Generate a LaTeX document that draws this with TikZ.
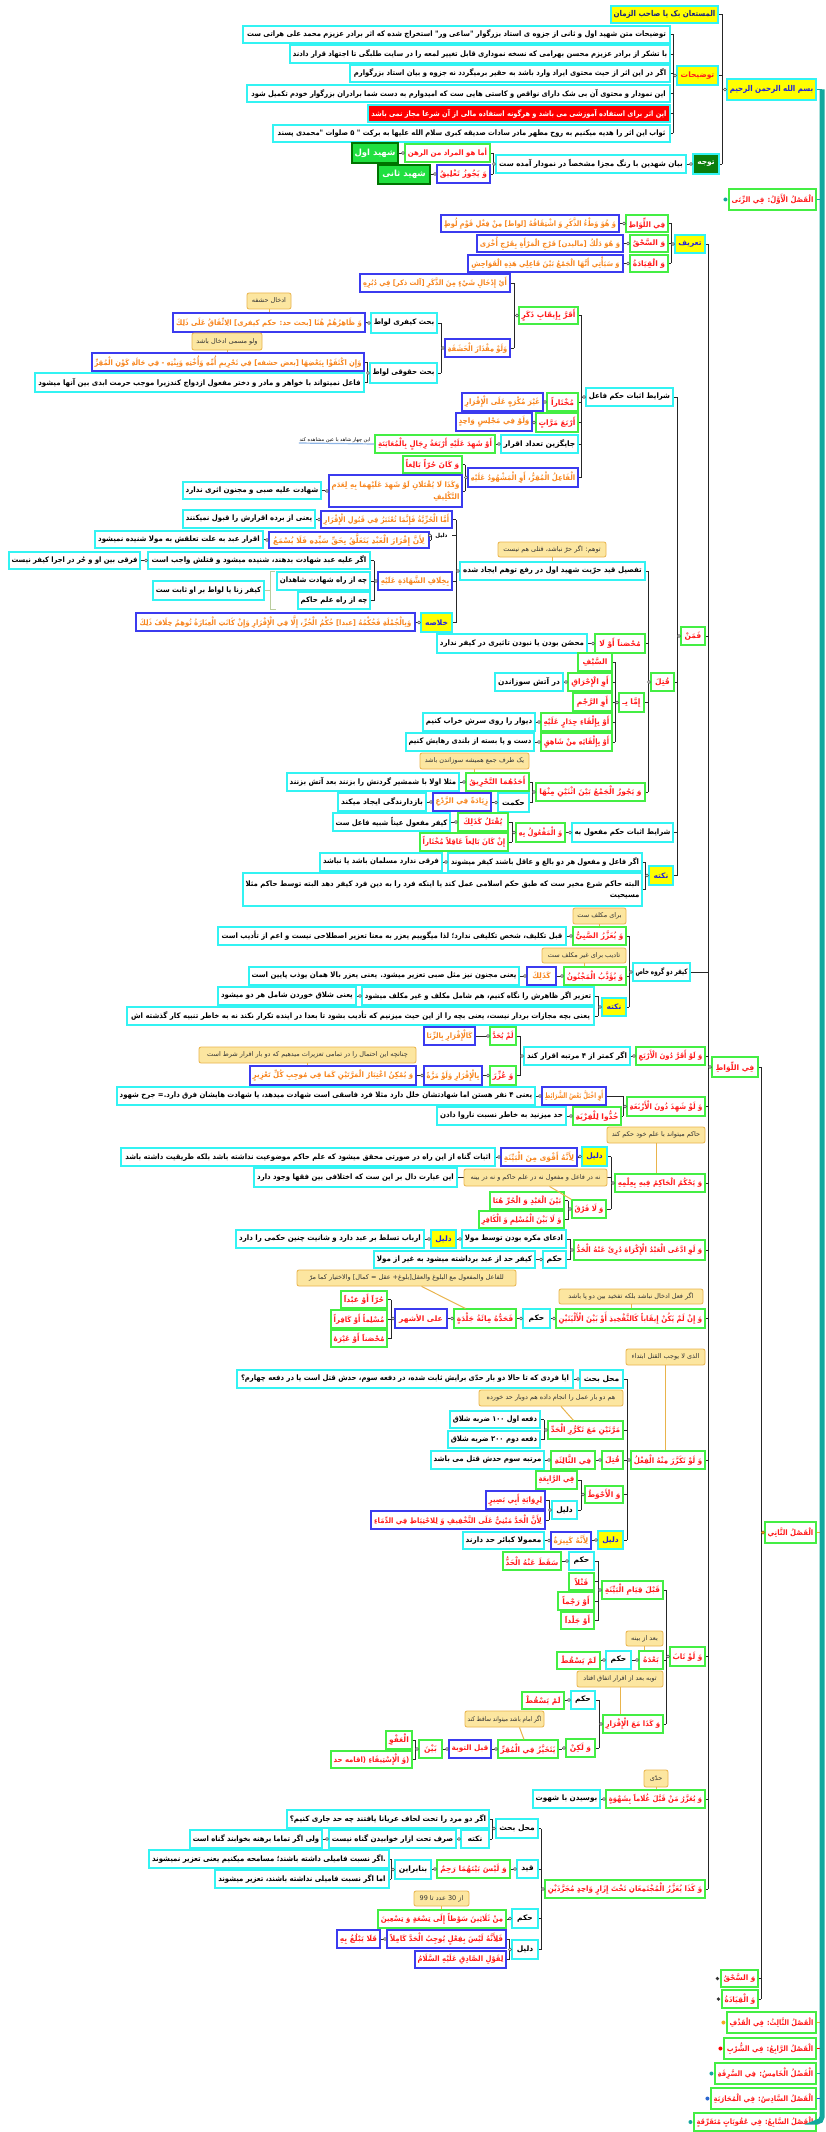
\documentclass[tikz,border=0pt]{standalone}
\usepackage{fontspec}
\usepackage{graphicx}
\newfontfamily\arabicfont[Script=Arabic]{DejaVu Sans}
\TeXXeTstate=1
\usetikzlibrary{calc}

\definecolor{cyanB}{HTML}{33F3F3}
\definecolor{greenB}{HTML}{44EE44}
\definecolor{blueB}{HTML}{3B3BEF}
\definecolor{redT}{HTML}{FF1A1A}
\definecolor{orangeT}{HTML}{F7851E}
\definecolor{blueT}{HTML}{2222DD}
\definecolor{navyT}{HTML}{1A237E}
\definecolor{yellowF}{HTML}{FFFF00}
\definecolor{noteF}{HTML}{FCE6A0}
\definecolor{noteB}{HTML}{E9B44C}
\definecolor{barC}{HTML}{12A89E}
\definecolor{dgreenF}{HTML}{0B7D0B}
\definecolor{sgreenF}{HTML}{20E040}
\definecolor{sumC}{HTML}{B9CC9C}
\definecolor{ulineC}{HTML}{8CB4E6}
\definecolor{chOrange}{HTML}{F5A623}

% Arabic-script font, bold and regular (each text carries its own \beginR ... \endR);
% \fitfeat narrows the font when a line is too long for its box
\newcommand\fitfeat{}
\newcommand\AR[1]{{\arabicfont\bfseries\fitfeat #1}}
\newcommand\ARr[1]{{\arabicfont\fitfeat #1}}
\newsavebox\fitbox
\newcommand\fitw[2]{%
  \def\fitfeat{}%
  \sbox\fitbox{#2}%
  \ifdim\wd\fitbox>#1\relax
    \pgfmathsetmacro\fitr{floor((#1)/(\wd\fitbox)*100)/100}%
    \edef\fitfeat{\noexpand\addfontfeatures{FakeStretch=\fitr}}%
  \fi
  \mbox{#2}}

\tikzset{
  basebox/.style={draw, line width=1.1pt, fill=white, inner sep=1pt, text=black,
    font=\fontsize{7.5}{11}\selectfont},
  cybox/.style={draw=cyanB},
  grbox/.style={draw=greenB, text=redT},
  blbox/.style={draw=blueB, text=orangeT},
  brbox/.style={draw=blueB, text=redT},
  ylbox/.style={draw=cyanB, fill=yellowF, text=blueT},
  redbox/.style={draw=cyanB, fill=red, text=white},
  dgbox/.style={draw=cyanB, fill=dgreenF, text=white},
  sgbox/.style={draw=green!45!black, fill=sgreenF, text=white, font=\fontsize{8.5}{11}\selectfont},
  lblbox/.style={draw=none, fill=none, font=\fontsize{5.5}{7}\selectfont},
  notebox/.style={draw=noteB, fill=noteF, line width=0.8pt, rounded corners=2pt, inner sep=1pt,
    text=black!80, font=\fontsize{6.5}{8}\selectfont},
  link/.style={draw=black!85, line width=0.6pt},
  knob/.style={draw=black!70, fill=white, line width=0.5pt},
  ptr/.style={draw=noteB, line width=1pt},
}

% box from x1 to x2 and y1 to y2 (pixels), one line of text
\newcommand\mnode[7][]{%
  \pgfmathsetmacro\nw{#4-#3}\pgfmathsetmacro\nh{#6-#5}\pgfmathsetmacro\tw{#4-#3-5}%
  \node[basebox,#1,minimum width=\nw pt,minimum height=\nh pt] (#2)
    at ({(#3+#4)/2},{(#5+#6)/2}) {\fitw{\tw pt}{\AR{#7}}};}
% box with two lines of text
\newcommand\mnodeII[8][]{%
  \pgfmathsetmacro\nw{#4-#3}\pgfmathsetmacro\nh{#6-#5}\pgfmathsetmacro\tw{#4-#3-5}%
  \node[basebox,#1,align=right,text width=\tw pt,minimum width=\nw pt,minimum height=\nh pt] (#2)
    at ({(#3+#4)/2},{(#5+#6)/2}) {\fitw{\tw pt}{\AR{#7}}\\\AR{#8}};}
% callout note
\newcommand\mnote[6]{%
  \pgfmathsetmacro\nw{#3-#2}\pgfmathsetmacro\nh{#5-#4}\pgfmathsetmacro\tw{#3-#2-5}%
  \node[notebox,minimum width=\nw pt,minimum height=\nh pt] (#1)
    at ({(#2+#3)/2},{(#4+#5)/2}) {\fitw{\tw pt}{\ARr{#6}}};}
% parent -> children through a vertical bracket at x = #2
\newcommand\kids[3]{%
  \coordinate (bk) at (#2,0);
  \foreach \kid in {#3}{%
    \draw[link] (#1.west) -- (#1.west -| bk);
    \draw[link] (#1.west -| bk) -- (\kid.east -| bk);
    \draw[link] (\kid.east -| bk) -- (\kid.east);}
  \filldraw[knob] ([xshift=-1.5pt]#1.west) circle (1.5pt);}

\begin{document}
\begin{tikzpicture}[x=1pt,y=-1pt]
\useasboundingbox (0,0) rectangle (826,2132);
\fill[white] (0,0) rectangle (826,2132);

% ---------- heading ----------
\mnode[ylbox,text=navyT,font=\fontsize{8}{11}\selectfont]{mst}{611}{718}{6}{23}{\beginR المستعان بک یا صاحب الزمان\endR}
\mnode[ylbox,font=\fontsize{8}{11}\selectfont]{bism}{727}{816}{79}{100}{\beginR بسم الله الرحمن الرحیم\endR}
\mnode[ylbox,text=redT]{tz}{677}{718}{66}{85}{\beginR توضیحات\endR}
\mnode[cybox]{e1}{243}{670}{26}{43}{\beginR توضیحات متن شهید اول و ثانی از جزوه ی استاد بزرگوار "ساعی ور" استخراج شده که اثر برادر عزیزم محمد علی هراتی ست\endR}
\mnode[cybox]{e2}{290}{670}{45}{63}{\beginR با تشکر از برادر عزیزم محسن بهرامی که نسخه نموداری قابل تغییر لمعه را در سایت طلبگی تا اجتهاد قرار دادند\endR}
\mnode[cybox]{e3}{350}{670}{65}{82}{\beginR اگر در این اثر از حیث محتوی ایراد وارد باشد به حقیر برمیگردد نه جزوه و بیان استاد بزرگوارم\endR}
\mnode[cybox]{e4}{247}{670}{85}{102}{\beginR این نمودار و محتوی آن بی شک دارای نواقص و کاستی هایی ست که امیدوارم به دست شما برادران بزرگوار خودم تکمیل شود\endR}
\mnode[redbox]{e5}{368}{670}{105}{122}{\beginR این اثر برای استفاده آموزشی می باشد و هرگونه استفاده مالی از آن شرعا مجاز نمی باشد\endR}
\mnode[cybox]{e6}{273}{670}{125}{142}{\beginR ثواب این اثر را هدیه میکنیم به روح مطهر مادر سادات صدیقه کبری سلام الله علیها به برکت " ۵ صلوات "محمدی پسند\endR}
\mnode[dgbox]{tav}{693}{719}{154}{174}{\beginR توجه\endR}
\mnode[cybox]{bay}{496}{686}{155}{173}{\beginR بیان شهدین با رنگ مجزا مشخصاً در نمودار آمده ست\endR}
\mnode[grbox]{ama}{405}{490}{144}{162}{\beginR أما هو المراد من الرهن\endR}
\mnode[sgbox]{sh1}{352}{398}{143}{163}{\beginR شهید اول\endR}
\mnode[brbox]{tal}{437}{490}{165}{183}{\beginR وَ يَجُوزُ تَعْلِيقُ\endR}
\mnode[sgbox]{sh2}{378}{430}{165}{184}{\beginR شهید ثانی\endR}

% ---------- chapters ----------
\mnode[grbox]{f1}{729}{816}{189}{210}{\beginR الْفَصْلُ الْأَوَّلُ: فِي الزِّنَى\endR}
\mnode[grbox]{f2}{765}{816}{1522}{1543}{\beginR الْفَصْلُ الثَّانِي\endR}
\mnode[grbox]{f3}{727}{816}{2012}{2033}{\beginR الْفَصْلُ الثَّالِثُ: فِي الْقَذْفِ\endR}
\mnode[grbox]{f4}{724}{816}{2038}{2059}{\beginR الْفَصْلُ الرَّابِعُ: فِي الشُّرْبِ\endR}
\mnode[grbox]{f5}{715}{816}{2063}{2084}{\beginR الْفَصْلُ الْخَامِسُ: فِي السَّرِقَةِ\endR}
\mnode[grbox]{f6}{711}{816}{2088}{2109}{\beginR الْفَصْلُ السَّادِسُ: فِي الْمُحَارَبَةِ\endR}
\mnode[grbox]{f7}{694}{816}{2113}{2131}{\beginR الْفَصْلُ السَّابِعُ: فِي عُقُوبَاتٍ مُتَفَرِّقَةٍ\endR}
\mnode[grbox]{fil}{712}{758}{1057}{1077}{\beginR فِي اللِّوَاطِ\endR}
\mnode[grbox]{shq3}{721}{758}{1970}{1987}{\beginR وَ السَّحْقُ\endR}
\mnode[grbox]{qyd3}{722}{758}{1990}{2008}{\beginR وَ الْقِيَادَةُ\endR}

% ---------- definitions ----------
\mnode[ylbox]{tarif}{675}{705}{235}{253}{\beginR تعریف\endR}
\mnode[grbox]{t1}{626}{668}{215}{232}{\beginR فِي اللِّوَاطِ\endR}
\mnode[blbox]{t1a}{441}{619}{215}{232}{\beginR وَ هُوَ وَطْءُ الذَّكَرِ وَ اشْتِقَاقُهُ [لواط] مِنْ فِعْلِ قَوْمِ لُوطٍ\endR}
\mnode[grbox]{t2}{630}{668}{235}{252}{\beginR وَ السَّحْقُ\endR}
\mnode[blbox]{t2a}{477}{623}{235}{252}{\beginR وَ هُوَ دَلْكُ [مالیدن] فَرْجِ الْمَرْأَةِ بِفَرْجِ أُخْرَى\endR}
\mnode[grbox]{t3}{630}{668}{255}{272}{\beginR وَ الْقِيَادَةُ\endR}
\mnode[blbox]{t3a}{468}{623}{255}{272}{\beginR وَ سَيَأْتِي أَنَّهَا الْجَمْعُ بَيْنَ فَاعِلِي هَذِهِ الْفَوَاحِشِ\endR}

% ---------- proof for the doer ----------
\mnode[blbox]{ay}{360}{510}{274}{292}{\beginR أَيْ إِدْخَالِ شَيْءٍ مِنَ الذَّكَرِ [آلت ذکر] فِي دُبُرِهِ\endR}
\mnode[grbox]{aqr}{519}{578}{307}{324}{\beginR أَقَرَّ بِإِيقَابِ ذَكَرٍ\endR}
\mnode[blbox]{hash}{445}{510}{339}{357}{\beginR وَلَوْ مِقْدَارَ الْحَشَفَةِ\endR}
\mnode[cybox]{kf}{371}{437}{313}{333}{\beginR بحث کیفری لواط\endR}
\mnode[blbox]{zah}{173}{365}{313}{332}{\beginR وَ ظَاهِرُهُمْ هُنَا [بحث حد: حکم کیفری] الِاتِّفَاقُ عَلَى ذَلِكَ\endR}
\mnode[cybox]{hq}{370}{437}{363}{383}{\beginR بحث حقوقی لواط\endR}
\mnode[blbox]{ikt}{92}{364}{353}{371}{\beginR وَإِنِ اكْتَفَوْا بِبَعْضِهَا [بعض حشفه] فِي تَحْرِيمِ أُمِّهِ وَأُخْتِهِ وَبِنْتِهِ - فِي حَالَةِ كَوْنِ الْمُقِرِّ\endR}
\mnode[cybox]{fail}{35}{364}{373}{392}{\beginR فاعل نمیتواند با خواهر و مادر و دختر مفعول ازدواج کندزیرا موجب حرمت ابدی بین آنها میشود\endR}
\mnode[cybox]{shf}{586}{673}{388}{406}{\beginR شرایط اثبات حکم فاعل\endR}
\mnode[grbox]{mkh}{547}{578}{393}{411}{\beginR مُخْتَاراً\endR}
\mnode[blbox]{ghm}{462}{543}{393}{411}{\beginR غَيْرَ مُكْرَهٍ عَلَى الْإِقْرَارِ\endR}
\mnode[grbox]{arb}{536}{578}{413}{432}{\beginR أَرْبَعَ مَرَّاتٍ\endR}
\mnode[blbox]{mjl}{456}{532}{413}{431}{\beginR وَلَوْ فِي مَجْلِسٍ وَاحِدٍ\endR}
\mnode[cybox]{jay}{501}{578}{435}{453}{\beginR جایگزین تعداد اقرار\endR}
\mnode[grbox]{shh}{375}{495}{435}{453}{\beginR أَوْ شَهِدَ عَلَيْهِ أَرْبَعَةُ رِجَالٍ بِالْمُعَايَنَةِ\endR}
\node[font=\fontsize{5}{6}\selectfont, inner sep=0.5pt, anchor=south east] (chs) at (371,443) {\ARr{\beginR این چهار شاهد با عین مشاهده کند\endR}};
\mnode[blbox]{fm}{468}{578}{468}{487}{\beginR الْفَاعِلُ الْمُقِرُّ، أَوِ الْمَشْهُودُ عَلَيْهِ\endR}
\mnode[grbox]{hur}{403}{462}{456}{473}{\beginR وَ كَانَ حُرّاً بَالِغاً\endR}
\mnodeII[blbox]{kdh}{329}{462}{475}{507}{\beginR وَكَذَا لَا يُقْتَلَانِ لَوْ شَهِدَ عَلَيْهِمَا بِهِ لِعَدَمِ\endR}{\beginR التَّكْلِيفِ\endR}
\mnode[cybox]{sab}{183}{321}{482}{499}{\beginR شهادت علیه صبی و مجنون اثری ندارد\endR}

% ---------- freedom condition ----------
\mnode[cybox]{tafs}{460}{645}{562}{580}{\beginR تفصیل قید حرّیت شهید اول در رفع توهم ایجاد شده\endR}
\mnode[blbox]{hur2}{321}{452}{511}{528}{\beginR أَمَّا الْحُرِّيَّةُ فَإِنَّمَا تُعْتَبَرُ فِي قَبُولِ الْإِقْرَارِ\endR}
\mnode[cybox]{bard}{183}{315}{510}{528}{\beginR یعنی از برده اقرارش را قبول نمیکنند\endR}
\mnode[lblbox]{dal0}{432}{451}{530}{541}{\beginR دلیل\endR}
\mnode[blbox]{lan}{269}{429}{532}{548}{\beginR لِأَنَّ إِقْرَارَ الْعَبْدِ يَتَعَلَّقُ بِحَقِّ سَيِّدِهِ فَلَا يُسْمَعُ\endR}
\mnode[cybox]{iqa}{95}{263}{531}{548}{\beginR اقرار عبد به علت تعلقش به مولا شنیده نمیشود\endR}
\mnode[blbox]{bkh}{378}{452}{572}{590}{\beginR بِخِلَافِ الشَّهَادَةِ عَلَيْهِ\endR}
\mnode[cybox]{agar}{148}{370}{552}{569}{\beginR اگر علیه عبد شهادت بدهند، شنیده میشود و قتلش واجب است\endR}
\mnode[cybox]{farq}{9}{140}{552}{569}{\beginR فرقی بین او و حُر در اجرا کیفر نیست\endR}
\mnode[cybox]{che1}{277}{370}{572}{590}{\beginR چه از راه شهادت شاهدان\endR}
\mnode[cybox]{che2}{298}{370}{592}{609}{\beginR چه از راه علم حاکم\endR}
\mnode[cybox]{kzn}{153}{264}{581}{600}{\beginR کیفر زنا یا لواط بر او ثابت ست\endR}
\mnode[ylbox]{khl}{421}{452}{613}{632}{\beginR خلاصه\endR}
\mnode[blbox]{bjm}{136}{415}{613}{631}{\beginR وَبِالْجُمْلَةِ فَحُكْمُهُ [عبدا] حُكْمُ الْحُرِّ، إِلَّا فِي الْإِقْرَارِ وَإِنْ كَانَتِ الْعِبَارَةُ تُوهِمُ خِلَافَ ذَلِكَ\endR}

% ---------- killing ----------
\mnode[grbox]{fmn}{681}{705}{627}{645}{\beginR فَمَنْ\endR}
\mnode[grbox]{muh}{595}{645}{634}{653}{\beginR مُحْصَناً أَوْ لَا\endR}
\mnode[cybox]{muh2}{437}{587}{634}{653}{\beginR محصَن بودن یا نبودن تاثیری در کیفر ندارد\endR}
\mnode[grbox]{qtl}{651}{674}{673}{691}{\beginR قُتِلَ\endR}
\mnode[grbox]{imma}{619}{644}{693}{712}{\beginR إِمَّا بِـ\endR}
\mnode[grbox]{sayf}{578}{612}{653}{671}{\beginR السَّيْفِ\endR}
\mnode[grbox]{ihr}{568}{612}{673}{691}{\beginR أَوِ الْإِحْرَاقِ\endR}
\mnode[cybox]{ihr2}{495}{563}{673}{691}{\beginR در آتش سوزاندن\endR}
\mnode[grbox]{rjm}{573}{612}{693}{711}{\beginR أَوِ الرَّجْمِ\endR}
\mnode[grbox]{jdr}{541}{612}{713}{731}{\beginR أَوْ بِإِلْقَاءِ جِدَارٍ عَلَيْهِ\endR}
\mnode[cybox]{jdr2}{423}{535}{713}{731}{\beginR دیوار را روی سرش خراب کنیم\endR}
\mnode[grbox]{shq}{541}{612}{733}{751}{\beginR أَوْ بِإِلْقَائِهِ مِنْ شَاهِقٍ\endR}
\mnode[cybox]{shq2}{406}{534}{733}{751}{\beginR دست و پا بسته از بلندی رهایش کنیم\endR}
\mnode[grbox]{jam}{536}{645}{783}{801}{\beginR وَ يَجُوزُ الْجَمْعُ بَيْنَ اثْنَيْنِ مِنْهَا\endR}
\mnode[grbox]{ahd}{466}{529}{773}{791}{\beginR أَحَدُهُمَا التَّحْرِيقُ\endR}
\mnode[cybox]{ahd2}{287}{459}{773}{791}{\beginR مثلا اولا با شمشیر گردنش را بزنند بعد آتش بزنند\endR}
\mnode[cybox]{hkm}{498}{529}{793}{812}{\beginR حکمت\endR}
\mnode[blbox]{zya}{433}{491}{793}{811}{\beginR زِيَادَةً فِي الرَّدْعِ\endR}
\mnode[cybox]{zya2}{338}{426}{793}{811}{\beginR بازدارندگی ایجاد میکند\endR}
\mnode[cybox]{shm}{572}{673}{823}{842}{\beginR شرایط اثبات حکم مفعول به\endR}
\mnode[grbox]{mfl}{516}{565}{823}{842}{\beginR وَ الْمَفْعُولُ بِهِ\endR}
\mnode[grbox]{yqt}{458}{508}{813}{831}{\beginR يُقْتَلُ كَذَلِكَ\endR}
\mnode[cybox]{yqt2}{333}{450}{813}{831}{\beginR کیفر مفعول عیناً شبیه فاعل ست\endR}
\mnode[grbox]{inkan}{420}{508}{833}{851}{\beginR إِنْ كَانَ بَالِغاً عَاقِلاً مُخْتَاراً\endR}
\mnode[ylbox]{nk1}{649}{673}{866}{885}{\beginR نکته\endR}
\mnode[cybox]{nk1a}{448}{642}{853}{871}{\beginR اگر فاعل و مفعول هر دو بالغ و عاقل باشند کیفر میشوند\endR}
\mnode[cybox]{nk1b}{320}{442}{853}{871}{\beginR فرقی ندارد مسلمان باشد یا نباشد\endR}
\mnodeII[cybox]{nk1c}{243}{642}{873}{906}{\beginR البته حاکم شرع مخیر ست که طبق حکم اسلامی عمل کند یا اینکه فرد را به دین فرد کیفر دهد البته توسط حاکم مثلا\endR}{\beginR مسیحیت\endR}

% ---------- two special groups ----------
\mnode[cybox]{kdg}{633}{690}{963}{981}{\beginR کیفر دو گروه خاص\endR}
\mnode[grbox]{sabi}{573}{626}{927}{945}{\beginR وَ يُعَزَّرُ الصَّبِيُّ\endR}
\mnode[cybox]{sabi2}{218}{566}{927}{945}{\beginR قبل تکلیف، شخص تکلیفی ندارد؛ لذا میگوییم یعزر به معنا تعزیر اصطلاحی نیست و اعم از تأدیب است\endR}
\mnode[grbox]{majn}{564}{626}{967}{985}{\beginR وَ يُؤَدَّبُ الْمَجْنُونُ\endR}
\mnode[blbox]{kdl}{527}{556}{967}{985}{\beginR كَذَلِكَ\endR}
\mnode[cybox]{majn2}{249}{519}{967}{985}{\beginR یعنی مجنون نیز مثل صبی تعزیر میشود. یعنی یعزر بالا همان یوذب پایین است\endR}
\mnode[ylbox]{nk2}{602}{626}{998}{1016}{\beginR نکته\endR}
\mnode[cybox]{nk2a}{362}{594}{987}{1005}{\beginR تعزیر اگر ظاهرش را نگاه کنیم، هم شامل مکلف و غیر مکلف میشود\endR}
\mnode[cybox]{nk2b}{218}{356}{987}{1005}{\beginR یعنی شلاق خوردن شامل هر دو میشود\endR}
\mnode[cybox]{nk2c}{127}{594}{1007}{1025}{\beginR یعنی بچه مجازات بردار نیست، یعنی بچه را از این حیث میزنیم که تأدیب بشود تا بعدا در اینده تکرار نکند نه به خاطر تنبیه کار گذشته اش\endR}

% ---------- fewer than four ----------
\mnode[grbox]{dun}{636}{705}{1047}{1065}{\beginR وَ لَوْ أَقَرَّ دُونَ الْأَرْبَعِ\endR}
\mnode[cybox]{dun2}{524}{630}{1047}{1065}{\beginR اگر کمتر از ۴ مرتبه اقرار کند\endR}
\mnode[grbox]{lam}{490}{516}{1027}{1045}{\beginR لَمْ يُحَدَّ\endR}
\mnode[blbox]{lam2}{424}{475}{1027}{1045}{\beginR كَالْإِقْرَارِ بِالزِّنَا\endR}
\mnode[grbox]{uzr}{490}{516}{1066}{1085}{\beginR وَ عُزِّرَ\endR}
\mnode[blbox]{uzr2}{424}{482}{1066}{1085}{\beginR بِالْإِقْرَارِ وَلَوْ مَرَّةً\endR}
\mnode[blbox]{uzr3}{250}{416}{1066}{1085}{\beginR وَ يُمْكِنُ اعْتِبَارُ الْمَرَّتَيْنِ كَمَا فِي مُوجِبِ كُلِّ تَعْزِيرٍ\endR}
\mnode[grbox]{shd}{627}{705}{1097}{1116}{\beginR وَ لَوْ شَهِدَ دُونَ الْأَرْبَعَةِ\endR}
\mnode[blbox]{ikh}{542}{606}{1087}{1105}{\beginR أَوِ اخْتَلَّ بَعْضُ الشَّرَائِطِ\endR}
\mnode[cybox]{ikh2}{117}{535}{1087}{1105}{\beginR یعنی ۴ نفر هستن اما شهادتشان خلل دارد مثلا فرد فاسقی است شهادت میدهد، یا شهادت هایشان فرق دارد.= جرح شهود\endR}
\mnode[grbox]{hud}{573}{621}{1107}{1125}{\beginR حُدُّوا لِلْفِرْيَةِ\endR}
\mnode[cybox]{hud2}{437}{566}{1107}{1125}{\beginR حد میزنید به خاطر نسبت ناروا دادن\endR}

% ---------- judge's knowledge ----------
\mnode[grbox]{yhk}{615}{705}{1174}{1192}{\beginR وَ يَحْكُمُ الْحَاكِمُ فِيهِ بِعِلْمِهِ\endR}
\mnode[ylbox]{dl1}{582}{607}{1147}{1166}{\beginR دلیل\endR}
\mnode[blbox]{dl1a}{501}{577}{1148}{1166}{\beginR لِأَنَّهُ أَقْوَى مِنَ الْبَيِّنَةِ\endR}
\mnode[cybox]{dl1b}{121}{495}{1148}{1166}{\beginR اثبات گناه از این راه در صورتی محقق میشود که علم حاکم موضوعیت نداشته باشد بلکه طریقیت داشته باشد\endR}
\mnode[cybox]{ebr}{254}{457}{1168}{1187}{\beginR این عبارت دال بر این ست که اختلافی بین فقها وجود دارد\endR}
\mnode[grbox]{laf}{572}{606}{1200}{1218}{\beginR وَ لَا فَرْقَ\endR}
\mnode[grbox]{laf1}{490}{564}{1192}{1209}{\beginR بَيْنَ الْعَبْدِ وَ الْحُرِّ هُنَا\endR}
\mnode[grbox]{laf2}{479}{564}{1211}{1228}{\beginR وَ لَا بَيْنَ الْمُسْلِمِ وَ الْكَافِرِ\endR}

% ---------- coercion ----------
\mnode[grbox]{ida}{574}{705}{1240}{1260}{\beginR وَ لَوِ ادَّعَى الْعَبْدُ الْإِكْرَاهَ دُرِئَ عَنْهُ الْحَدُّ\endR}
\mnode[cybox]{mkr}{462}{566}{1230}{1248}{\beginR ادعای مکره بودن توسط مولا\endR}
\mnode[ylbox]{dl2}{431}{456}{1230}{1248}{\beginR دلیل\endR}
\mnode[cybox]{dl2a}{236}{424}{1230}{1248}{\beginR ارباب تسلط بر عبد دارد و شانیت چنین حکمی را دارد\endR}
\mnode[cybox]{hk1}{543}{566}{1251}{1268}{\beginR حکم\endR}
\mnode[cybox]{hk1a}{374}{535}{1251}{1268}{\beginR کیفر حد از عبد برداشته میشود به غیر از مولا\endR}

% ---------- without penetration ----------
\mnode[grbox]{iql}{556}{705}{1309}{1328}{\beginR وَ إِنْ لَمْ يَكُنْ إِيقَاباً كَالتَّفْخِيذِ أَوْ بَيْنَ الْأَلْيَتَيْنِ\endR}
\mnode[cybox]{hk2}{523}{550}{1309}{1328}{\beginR حکم\endR}
\mnode[grbox]{mia}{454}{516}{1309}{1328}{\beginR فَحَدُّهُ مِائَةُ جَلْدَةٍ\endR}
\mnode[brbox]{ash}{395}{447}{1309}{1328}{\beginR على الأشهر\endR}
\mnode[grbox]{hr1}{341}{387}{1291}{1308}{\beginR حُرّاً أَوْ عَبْداً\endR}
\mnode[grbox]{hr2}{331}{387}{1310}{1328}{\beginR مُسْلِماً أَوْ كَافِراً\endR}
\mnode[grbox]{hr3}{331}{387}{1330}{1347}{\beginR مُحْصَناً أَوْ غَيْرَهُ\endR}

% ---------- repetition ----------
\mnode[grbox]{tkr}{631}{705}{1451}{1469}{\beginR وَ لَوْ تَكَرَّرَ مِنْهُ الْفِعْلُ\endR}
\mnode[cybox]{mhb}{580}{623}{1370}{1388}{\beginR محل بحث\endR}
\mnode[cybox]{mhb2}{237}{573}{1370}{1388}{\beginR ایا فردی که تا حالا دو بار حدّی برایش ثابت شده، در دفعه سوم، حدش قتل است یا در دفعه چهارم؟\endR}
\mnode[grbox]{mrt}{548}{623}{1421}{1439}{\beginR مَرَّتَيْنِ مَعَ تَكَرُّرِ الْحَدِّ\endR}
\mnode[cybox]{df1}{450}{540}{1411}{1428}{\beginR دفعه اول ۱۰۰ ضربه شلاق\endR}
\mnode[cybox]{df2}{448}{540}{1431}{1448}{\beginR دفعه دوم ۲۰۰ ضربه شلاق\endR}
\mnode[grbox]{qtl2}{602}{623}{1451}{1469}{\beginR قُتِلَ\endR}
\mnode[grbox]{thl}{551}{595}{1451}{1469}{\beginR فِي الثَّالِثَةِ\endR}
\mnode[cybox]{thl2}{431}{544}{1451}{1469}{\beginR مرتبه سوم حدش قتل می باشد\endR}
\mnode[grbox]{ahw}{585}{623}{1486}{1503}{\beginR وَ الْأَحْوَطُ\endR}
\mnode[grbox]{rab}{536}{577}{1471}{1489}{\beginR فِي الرَّابِعَةِ\endR}
\mnode[cybox]{dl3}{552}{577}{1501}{1519}{\beginR دلیل\endR}
\mnode[brbox]{rwy}{486}{545}{1491}{1509}{\beginR لِرِوَايَةِ أَبِي بَصِيرٍ\endR}
\mnode[brbox]{lhd}{371}{545}{1511}{1529}{\beginR لِأَنَّ الْحَدَّ مَبْنِيٌّ عَلَى التَّخْفِيفِ وَ لِلاحْتِيَاطِ فِي الدِّمَاءِ\endR}
\mnode[ylbox]{dl4}{598}{623}{1531}{1549}{\beginR دلیل\endR}
\mnode[blbox]{kbr}{551}{591}{1532}{1549}{\beginR لِأَنَّهُ كَبِيرَةٌ\endR}
\mnode[cybox]{kbr2}{463}{544}{1532}{1549}{\beginR معمولا کبائر حد دارند\endR}

% ---------- repentance ----------
\mnode[grbox]{tab}{670}{705}{1647}{1666}{\beginR وَ لَوْ تَابَ\endR}
\mnode[grbox]{qbl}{602}{663}{1581}{1599}{\beginR قَبْلَ قِيَامِ الْبَيِّنَةِ\endR}
\mnode[cybox]{hk3}{569}{594}{1552}{1570}{\beginR حکم\endR}
\mnode[grbox]{sqt}{503}{561}{1552}{1570}{\beginR سَقَطَ عَنْهُ الْحَدُّ\endR}
\mnode[grbox]{qt}{569}{594}{1573}{1590}{\beginR قَتْلاً\endR}
\mnode[grbox]{rj}{558}{594}{1592}{1610}{\beginR أَوْ رَجْماً\endR}
\mnode[grbox]{jl}{561}{594}{1612}{1629}{\beginR أَوْ جَلْداً\endR}
\mnode[grbox]{bad}{639}{663}{1651}{1669}{\beginR بَعْدَهُ\endR}
\mnode[cybox]{hk4}{606}{631}{1651}{1669}{\beginR حکم\endR}
\mnode[grbox]{lys1}{557}{600}{1652}{1669}{\beginR لَمْ يَسْقُطْ\endR}
\mnode[grbox]{kma}{603}{663}{1715}{1733}{\beginR وَ كَذَا مَعَ الْإِقْرَارِ\endR}
\mnode[cybox]{hk5}{571}{595}{1691}{1709}{\beginR حکم\endR}
\mnode[grbox]{lys2}{522}{564}{1692}{1709}{\beginR لَمْ يَسْقُطْ\endR}
\mnode[grbox]{lkn}{566}{595}{1739}{1757}{\beginR وَ لَكِنْ\endR}
\mnode[grbox]{ytk}{498}{558}{1740}{1758}{\beginR يَتَخَيَّرُ فِي الْمُقِرِّ\endR}
\mnode[brbox]{qtw}{449}{491}{1740}{1758}{\beginR قبل التوبة\endR}
\mnode[grbox]{byn}{419}{442}{1740}{1758}{\beginR بَيْنَ\endR}
\mnode[grbox]{afw}{386}{412}{1731}{1749}{\beginR الْعَفْوِ\endR}
\mnode[grbox]{ist}{331}{412}{1751}{1768}{\beginR (وَ الْإِسْتِيفَاءِ (اقامه حد\endR}

% ---------- kissing, lying together ----------
\mnode[grbox]{ghl}{606}{705}{1790}{1808}{\beginR وَ يُعَزَّرُ مَنْ قَبَّلَ غُلَاماً بِشَهْوَةٍ\endR}
\mnode[cybox]{ghl2}{533}{600}{1790}{1808}{\beginR بوسیدن با شهوت\endR}
\mnode[grbox]{mjt}{545}{705}{1880}{1898}{\beginR وَ كَذَا يُعَزَّرُ الْمُجْتَمِعَانِ تَحْتَ إِزَارٍ وَاحِدٍ مُجَرَّدَيْنِ\endR}
\mnode[cybox]{mhb3}{496}{538}{1819}{1838}{\beginR محل بحث\endR}
\mnode[cybox]{lhf}{287}{489}{1810}{1828}{\beginR اگر دو مرد را تحت لحاف عریانا یافتند چه حد جاری کنیم؟\endR}
\mnode[cybox]{nk3}{461}{489}{1830}{1848}{\beginR نکته\endR}
\mnode[cybox]{srf}{329}{456}{1830}{1848}{\beginR صرف تحت ازار خوابیدن گناه نیست\endR}
\mnode[cybox]{wly}{190}{322}{1830}{1848}{\beginR ولی اگر تماما برهنه بخوابند گناه است\endR}
\mnode[cybox]{qyd}{517}{538}{1860}{1878}{\beginR قید\endR}
\mnode[grbox]{rhm}{437}{510}{1860}{1878}{\beginR وَ لَيْسَ بَيْنَهُمَا رَحِمٌ\endR}
\mnode[cybox]{bna}{395}{431}{1860}{1879}{\beginR بنابراین\endR}
\mnode[cybox]{ns1}{149}{389}{1850}{1868}{\beginR .اگر نسبت فامیلی داشته باشند؛ مسامحه میکنیم یعنی تعزیر نمیشوند\endR}
\mnode[cybox]{ns2}{215}{389}{1870}{1888}{\beginR اما اگر نسبت فامیلی نداشته باشند، تعزیر میشوند\endR}
\mnode[cybox]{hk6}{512}{538}{1909}{1928}{\beginR حکم\endR}
\mnode[grbox]{thn}{378}{506}{1910}{1928}{\beginR مِنْ ثَلَاثِينَ سَوْطاً إِلَى تِسْعَةٍ وَ تِسْعِينَ\endR}
\mnode[cybox]{dl5}{512}{538}{1940}{1959}{\beginR دلیل\endR}
\mnode[brbox]{lys}{387}{506}{1930}{1948}{\beginR فَلِأَنَّهُ لَيْسَ بِفِعْلٍ يُوجِبُ الْحَدَّ كَامِلاً\endR}
\mnode[brbox]{ybl}{337}{380}{1930}{1948}{\beginR فَلَا يَبْلُغُ بِهِ\endR}
\mnode[brbox]{sdq}{415}{506}{1951}{1968}{\beginR لِقَوْلِ الصَّادِقِ عَلَيْهِ السَّلَامُ\endR}

% ---------- connectors ----------
\kids{bism}{722}{mst,tz,tav}
\kids{tz}{673}{e1,e2,e3,e4,e5,e6}
\kids{tav}{689}{bay}
\kids{bay}{493}{ama,tal}
\kids{ama}{401}{sh1}
\kids{tal}{433}{sh2}
\kids{f2}{761}{fil,shq3,qyd3}
\kids{fil}{708}{tarif,fmn,kdg,dun,shd,yhk,ida,iql,tkr,tab,ghl,mjt}
\kids{tarif}{671}{t1,t2,t3}
\kids{t1}{622}{t1a}
\kids{t2}{626}{t2a}
\kids{t3}{626}{t3a}
\kids{fmn}{677}{shf,qtl,shm,nk1}
\kids{shf}{581}{aqr,mkh,arb,jay,fm}
\kids{aqr}{514}{ay,hash}
\kids{hash}{441}{kf,hq}
\kids{kf}{368}{zah}
\kids{hq}{367}{ikt,fail}
\kids{mkh}{545}{ghm}
\kids{arb}{534}{mjl}
\kids{jay}{498}{shh}
\kids{fm}{465}{hur,kdh}
\kids{kdh}{325}{sab}
\kids{qtl}{648}{tafs,muh,imma,jam}
\kids{tafs}{456}{hur2,dal0,bkh,khl}
\kids{hur2}{318}{bard}
\kids{dal0}{431}{lan}
\kids{lan}{266}{iqa}
\kids{bkh}{374}{agar,che1,che2}
\kids{agar}{144}{farq}
\kids{khl}{418}{bjm}
\kids{muh}{591}{muh2}
\kids{imma}{615}{sayf,ihr,rjm,jdr,shq}
\kids{ihr}{565}{ihr2}
\kids{jdr}{538}{jdr2}
\kids{shq}{538}{shq2}
\kids{jam}{532}{ahd,hkm}
\kids{ahd}{462}{ahd2}
\kids{hkm}{495}{zya}
\kids{zya}{430}{zya2}
\kids{shm}{569}{mfl}
\kids{mfl}{512}{yqt,inkan}
\kids{yqt}{454}{yqt2}
\kids{nk1}{645}{nk1a,nk1c}
\kids{nk1a}{445}{nk1b}
\kids{kdg}{629}{sabi,majn,nk2}
\kids{sabi}{570}{sabi2}
\kids{majn}{560}{kdl}
\kids{kdl}{523}{majn2}
\kids{nk2}{598}{nk2a,nk2c}
\kids{nk2a}{359}{nk2b}
\kids{dun}{633}{dun2}
\kids{dun2}{520}{lam,uzr}
\kids{lam}{483}{lam2}
\kids{uzr}{486}{uzr2}
\kids{uzr2}{420}{uzr3}
\kids{shd}{623}{ikh,hud}
\kids{ikh}{538}{ikh2}
\kids{hud}{569}{hud2}
\kids{yhk}{611}{dl1,ebr,laf}
\kids{dl1}{579}{dl1a}
\kids{dl1a}{498}{dl1b}
\kids{laf}{568}{laf1,laf2}
\kids{ida}{570}{mkr,hk1}
\kids{mkr}{459}{dl2}
\kids{dl2}{428}{dl2a}
\kids{hk1}{539}{hk1a}
\kids{iql}{553}{hk2}
\kids{hk2}{520}{mia}
\kids{mia}{451}{ash}
\kids{ash}{391}{hr1,hr2,hr3}
\kids{tkr}{627}{mhb,mrt,qtl2,ahw,dl4}
\kids{mhb}{577}{mhb2}
\kids{mrt}{544}{df1,df2}
\kids{qtl2}{598}{thl}
\kids{thl}{548}{thl2}
\kids{ahw}{581}{rab,dl3}
\kids{dl3}{549}{rwy,lhd}
\kids{dl4}{595}{kbr}
\kids{kbr}{548}{kbr2}
\kids{tab}{666}{qbl,bad,kma}
\kids{qbl}{598}{hk3,qt,rj,jl}
\kids{hk3}{565}{sqt}
\kids{bad}{635}{hk4}
\kids{hk4}{603}{lys1}
\kids{kma}{599}{hk5,lkn}
\kids{hk5}{568}{lys2}
\kids{lkn}{562}{ytk}
\kids{ytk}{495}{qtw}
\kids{qtw}{445}{byn}
\kids{byn}{415}{afw,ist}
\kids{ghl}{603}{ghl2}
\kids{mjt}{541}{mhb3,qyd,hk6,dl5}
\kids{mhb3}{492}{lhf,nk3}
\kids{nk3}{458}{srf}
\kids{srf}{325}{wly}
\kids{qyd}{513}{rhm}
\kids{rhm}{434}{bna}
\kids{bna}{391}{ns1,ns2}
\kids{hk6}{509}{thn}
\kids{dl5}{509}{lys,sdq}
\kids{lys}{383}{ybl}

% underline for the witnesses remark, summary bracket
\draw[ulineC, line width=1.2pt] (chs.south west) -- (shh.west);
\coordinate (sb) at (270,0);
\draw[sumC, line width=1pt] ([xshift=-1pt]che1.north west) -- (che1.north west -| sb) -- (che2.south west -| sb) -- ++(6,0);
\draw[sumC, line width=1pt] (kzn.east -| sb) -- (kzn.east);

% ---------- root bar and chapter links ----------
\coordinate (bar) at (822,0);
\foreach \n/\col in {bism/barC, f1/barC, f2/chOrange, f3/chOrange, f4/red, f5/barC, f6/blueB}
  \draw[\col, line width=1pt] (\n.east) -- (\n.east -| bar);
\draw[barC, line width=5pt, rounded corners=5pt] (bism.east -| bar) -- (f7.east -| bar) -- ([xshift=1pt]f7.east);
\fill[barC] ([xshift=-3pt]f1.west) circle (2pt);
\filldraw[draw=chOrange!70!black, fill=chOrange, line width=0.4pt] ([xshift=-1.5pt]f2.west) circle (1.6pt);
\fill[chOrange] ([xshift=-3pt]f3.west) circle (2pt);
\fill[red] ([xshift=-3pt]f4.west) circle (2pt);
\fill[barC] ([xshift=-3pt]f5.west) circle (2pt);
\fill[blueB!60!barC] ([xshift=-3pt]f6.west) circle (2pt);
\fill[barC] ([xshift=-3pt]f7.west) circle (2pt);
\fill[black!80] ([xshift=-3pt]shq3.west) circle (1.8pt);
\fill[black!80] ([xshift=-3pt]qyd3.west) circle (1.8pt);

% ---------- callout notes ----------
\mnote{n1}{247}{291}{293}{309}{\beginR ادخال حشفه\endR}
\mnote{n2}{192}{262}{333}{350}{\beginR ولو مسمی ادخال باشد\endR}
\mnote{n3}{498}{606}{542}{557}{\beginR توهم: اگر حرّ نباشد، قتلی هم نیست\endR}
\mnote{n4}{420}{529}{753}{769}{\beginR یک طرف جمع همیشه سوزاندن باشد\endR}
\mnote{n5}{573}{626}{908}{924}{\beginR برای مکلف ست\endR}
\mnote{n6}{542}{626}{948}{963}{\beginR تادیب برای غیر مکلف ست\endR}
\mnote{n7}{199}{416}{1047}{1063}{\beginR چنانچه این احتمال را در تمامی تعزیرات میدهیم که دو بار اقرار شرط است\endR}
\mnote{n8}{607}{705}{1127}{1143}{\beginR حاکم میتواند با علم خود حکم کند\endR}
\mnote{n9}{464}{607}{1169}{1186}{\beginR نه در فاعل و مفعول نه در علم حاکم و نه در بینه\endR}
\mnote{n10}{297}{516}{1270}{1286}{\beginR للفاعل والمفعول مع البلوغ والعقل[بلوغ+ عقل = کمال] والاختیار کما مرّ\endR}
\mnote{n11}{559}{703}{1289}{1304}{\beginR اگر فعل ادخال نباشد بلکه تفخید بین دو پا باشد\endR}
\mnote{n12}{626}{705}{1349}{1365}{\beginR الذی لا یوجب القتل ابتداء\endR}
\mnote{n13}{479}{623}{1390}{1406}{\beginR هم دو بار عمل را انجام داده هم دوبار حد خورده\endR}
\mnote{n14}{626}{663}{1631}{1646}{\beginR بعد از بینه\endR}
\mnote{n15}{577}{663}{1671}{1687}{\beginR توبه بعد از اقرار اتفاق افتاد\endR}
\mnote{n16}{465}{544}{1711}{1727}{\beginR اگر امام باشد میتواند ساقط کند\endR}
\mnote{n17}{644}{668}{1770}{1787}{\beginR حدّی\endR}
\mnote{n18}{414}{469}{1891}{1906}{\beginR از 30 عدد تا 99\endR}

\foreach \a/\b in {n1/zah, n2/ikt, n3/tafs, n4/ahd, n5/sabi, n6/majn, n7/uzr3, n8/yhk,
                   n11/iql, n12/tkr, n14/bad, n15/kma, n17/ghl, n18/thn}
  \draw[ptr] (\a.south) -- (\a.south |- \b.north);
\draw[ptr] ([xshift=14pt]n9.south) -- (laf.north west);
\draw[ptr] ([xshift=15pt]n10.south) -- ([xshift=12pt]mia.north west);
\draw[ptr] ([xshift=10pt]n13.south) -- ([xshift=-12pt]mrt.north);
\draw[ptr] ([xshift=15pt]n16.south) -- ([xshift=-4pt]ytk.north);
\end{tikzpicture}
\end{document}
